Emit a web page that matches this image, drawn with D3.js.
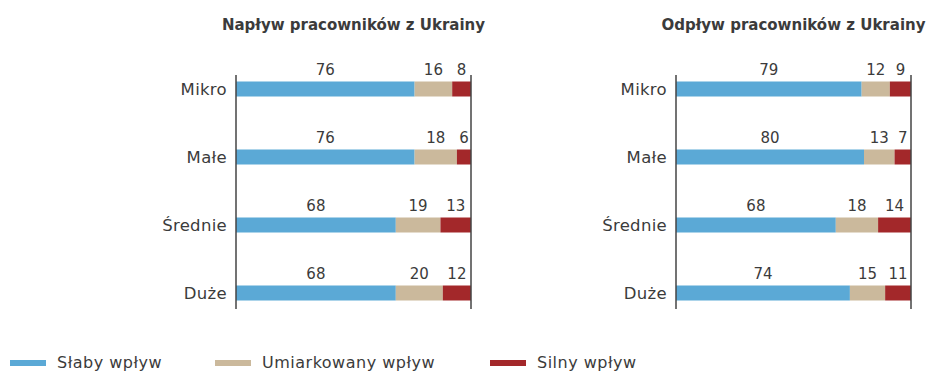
<!DOCTYPE html>
<html>
<head>
<meta charset="utf-8">
<script src="https://cdn.jsdelivr.net/npm/d3@7"></script>
<style>
  html, body { margin: 0; padding: 0; background: #fff; }
  svg { display: block; }
</style>
</head>
<body>
<svg id="chart" width="929" height="372"></svg>
<script>
// Firm size categories
const categories = ["Mikro", "Małe", "Średnie", "Duże"];
// Series names
const seriesNames = ["Słaby wpływ", "Umiarkowany wpływ", "Silny wpływ"];
const seriesColors = ["#5ba9d6", "#cbb99c", "#a3282a"];

// Inflow of workers from Ukraine (% of firms)
const inflowWeak = [76, 76, 68, 68];
const inflowModerate = [16, 18, 19, 20];
const inflowStrong = [8, 6, 13, 12];

// Outflow of workers from Ukraine (% of firms)
const outflowWeak = [79, 80, 68, 74];
const outflowModerate = [12, 13, 18, 15];
const outflowStrong = [9, 7, 14, 11];

const panels = [
  { title: "Napływ pracowników z Ukrainy", series: [inflowWeak, inflowModerate, inflowStrong], x0: 236, x1: 471 },
  { title: "Odpływ pracowników z Ukrainy", series: [outflowWeak, outflowModerate, outflowStrong], x0: 676, x1: 911 }
];

const svg = d3.select("#chart");
const font = "'DejaVu Sans', sans-serif";
const textColor = "#3b3b3b";
const barH = 15;

const y = d3.scalePoint().domain(categories).range([55, 327]).padding(0.5);

panels.forEach(p => {
  const x = d3.scaleLinear().domain([0, 100]).range([p.x0, p.x1]);
  const g = svg.append("g");

  // Title
  g.append("text")
    .attr("x", (p.x0 + p.x1) / 2)
    .attr("y", 30)
    .attr("text-anchor", "middle")
    .attr("font-family", font)
    .attr("font-weight", "bold")
    .attr("font-size", 15)
    .attr("fill", textColor)
    .text(p.title);

  // Stacked rows
  const rows = categories.map((c, i) => {
    let acc = 0;
    return p.series.map((s, k) => {
      const seg = { cat: c, k, v: s[i], start: acc, end: acc + s[i] };
      acc += s[i];
      return seg;
    });
  }).flat();

  g.selectAll("rect.seg").data(rows).join("rect")
    .attr("class", "seg")
    .attr("x", d => x(d.start))
    .attr("width", d => x(d.end) - x(d.start))
    .attr("y", d => y(d.cat) - barH / 2)
    .attr("height", barH)
    .attr("fill", d => seriesColors[d.k]);

  g.selectAll("text.val").data(rows).join("text")
    .attr("class", "val")
    .attr("x", d => (x(d.start) + x(d.end)) / 2)
    .attr("y", d => y(d.cat) - 14)
    .attr("text-anchor", "middle")
    .attr("font-family", font)
    .attr("font-size", 15)
    .attr("fill", textColor)
    .text(d => d.v);

  // Category labels
  g.selectAll("text.cat").data(categories).join("text")
    .attr("class", "cat")
    .attr("x", p.x0 - 9)
    .attr("y", d => y(d))
    .attr("dy", "0.35em")
    .attr("text-anchor", "end")
    .attr("font-family", font)
    .attr("font-size", 16.5)
    .attr("letter-spacing", 0.3)
    .attr("fill", textColor)
    .text(d => d);

  // Baseline and 100% line
  [0, 100].forEach(v => {
    g.append("line")
      .attr("x1", x(v)).attr("x2", x(v))
      .attr("y1", 75).attr("y2", 309)
      .attr("stroke", "#444")
      .attr("stroke-width", 1.5);
  });
});

// Legend
const legendX = [10, 215, 490];
const lg = svg.append("g");
seriesNames.forEach((name, k) => {
  lg.append("rect")
    .attr("x", legendX[k]).attr("y", 360)
    .attr("width", 36).attr("height", 6)
    .attr("fill", seriesColors[k]);
  lg.append("text")
    .attr("x", legendX[k] + 47).attr("y", 362)
    .attr("dy", "0.35em")
    .attr("font-family", font)
    .attr("font-size", 16)
    .attr("letter-spacing", 0.5)
    .attr("fill", textColor)
    .text(name);
});
</script>
</body>
</html>
